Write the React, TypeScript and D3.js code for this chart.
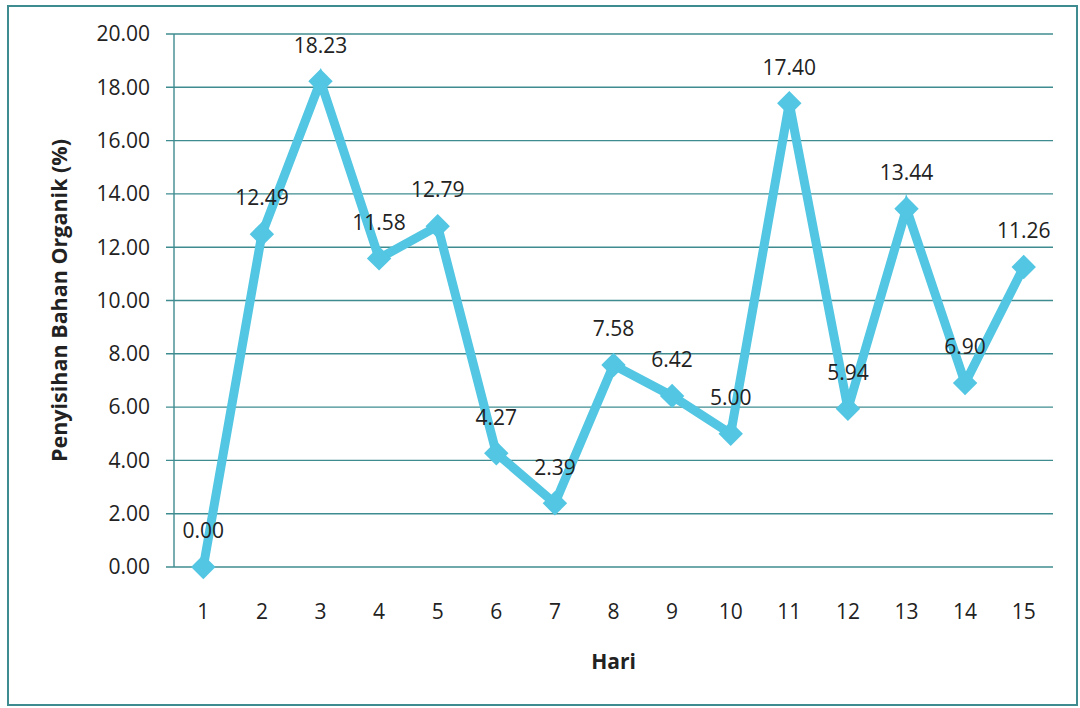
import React from "react";
import * as d3 from "d3";

// Removal of organic matter per day
const days: number[] = [1, 2, 3, 4, 5, 6, 7, 8, 9, 10, 11, 12, 13, 14, 15];
const removal: number[] = [0.0, 12.49, 18.23, 11.58, 12.79, 4.27, 2.39, 7.58, 6.42, 5.0, 17.4, 5.94, 13.44, 6.9, 11.26];
const yTicks: number[] = [0, 2, 4, 6, 8, 10, 12, 14, 16, 18, 20];

const W = 1080;
const H = 708;
const left = 174;
const right = 1053;
const top = 34;
const bottom = 567;

const FONT = "'Open Sans', 'Noto Sans', sans-serif";
const LINE = "#52c6e2";
const GRID = "#3f8c90";
const TEXT = "#222222";

export default function App() {
  const x = d3
    .scaleBand<number>()
    .domain(days)
    .range([left, right])
    .paddingInner(0)
    .paddingOuter(0);
  const cx = (d: number) => (x(d) as number) + x.bandwidth() / 2;
  const y = d3.scaleLinear().domain([0, 20]).range([bottom, top]);

  const pts: [number, number][] = days.map((d, i) => [cx(d), y(removal[i])]);
  const line = d3.line<[number, number]>()(pts) as string;
  const diamond = d3.symbol().type(d3.symbolDiamond2).size(380)() as string;

  return (
    <svg
      width={W}
      height={H}
      style={{ position: "absolute", left: 0, top: 0, background: "#ffffff" }}
      fontFamily={FONT}
    >
      <rect x={8} y={6} width={1069} height={699} fill="#ffffff" stroke={GRID} strokeWidth={2} />

      {/* horizontal gridlines with outward ticks */}
      {yTicks.map((t) => (
        <g key={t}>
          <line x1={left - 8} x2={right} y1={y(t)} y2={y(t)} stroke={GRID} strokeWidth={1.4} />
          <text
            x={150}
            y={y(t)}
            dy="0.35em"
            textAnchor="end"
            fontSize={21}
            fill={TEXT}
          >
            {t.toFixed(2)}
          </text>
        </g>
      ))}
      <line x1={left} x2={left} y1={top} y2={bottom} stroke={GRID} strokeWidth={1.4} />

      {/* category labels */}
      {days.map((d) => (
        <text key={d} x={cx(d)} y={612} dy="0.35em" textAnchor="middle" fontSize={21} fill={TEXT}>
          {d}
        </text>
      ))}

      {/* series */}
      <path d={line} fill="none" stroke={LINE} strokeWidth={9} strokeLinejoin="miter" />
      {pts.map(([px, py], i) => (
        <path key={i} d={diamond} transform={`translate(${px},${py})`} fill={LINE} />
      ))}

      {/* value labels */}
      {pts.map(([px, py], i) => (
        <text
          key={`v${i}`}
          x={px}
          y={py - 36}
          dy="0.35em"
          textAnchor="middle"
          fontSize={21}
          fill={TEXT}
        >
          {removal[i].toFixed(2)}
        </text>
      ))}

      {/* axis titles */}
      <text x={(left + right) / 2} y={662} dy="0.35em" textAnchor="middle" fontSize={21} fontWeight="bold" fill={TEXT}>
        Hari
      </text>
      <text
        transform={`translate(59,${(top + bottom) / 2}) rotate(-90)`}
        dy="0.35em"
        textAnchor="middle"
        fontSize={21.5}
        fontWeight="bold"
        fill={TEXT}
      >
        Penyisihan Bahan Organik (%)
      </text>
    </svg>
  );
}
